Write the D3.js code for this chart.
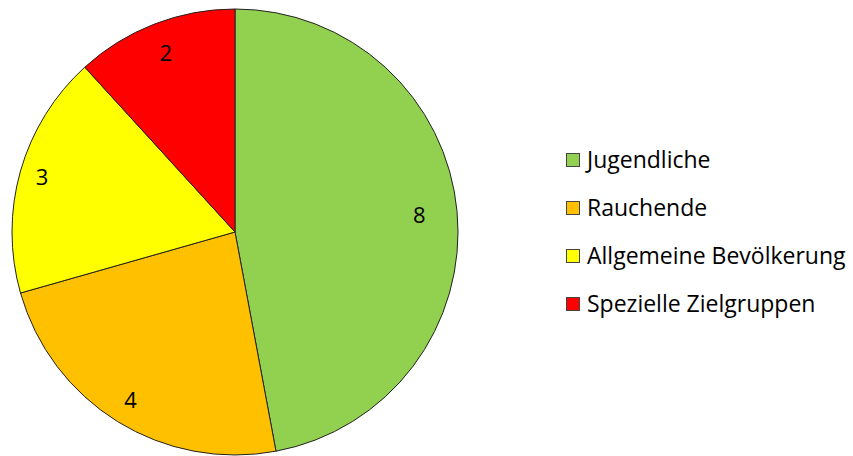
<!DOCTYPE html>
<html>
<head>
<meta charset="utf-8">
<script src="https://cdn.jsdelivr.net/npm/d3@7"></script>
<style>
  body { margin: 0; background: #fff; }
  text { font-family: "Open Sans", sans-serif; fill: #000; }
</style>
</head>
<body>
<div id="chart"></div>
<script>
let categories = ['Jugendliche', 'Rauchende', 'Allgemeine Bevölkerung', 'Spezielle Zielgruppen'];
let values = [8, 4, 3, 2];
let colors = ['#92D050', '#FFC000', '#FFFF00', '#FF0000'];
let labelPos = [0.83, 0.89, 0.9, 0.86]; // label distance as share of radius

let width = 853;
let height = 456;
let cx = 235, cy = 232, radius = 223;

let svg = d3.select('#chart')
  .append('svg')
  .attr('width', width)
  .attr('height', height);

let pie = d3.pie().sort(null).value(d => d);
let arcs = pie(values);

let arc = d3.arc().innerRadius(0).outerRadius(radius);

let g = svg.append('g').attr('transform', `translate(${cx},${cy})`);

g.selectAll('path')
  .data(arcs)
  .enter()
  .append('path')
  .attr('d', arc)
  .attr('fill', (d, i) => colors[i])
  .attr('stroke', '#222')
  .attr('stroke-width', 1);

g.selectAll('text.lbl')
  .data(arcs)
  .enter()
  .append('text')
  .attr('class', 'lbl')
  .attr('transform', (d, i) => {
    let r = radius * labelPos[i];
    let c = d3.arc().innerRadius(r).outerRadius(r).centroid(d);
    return `translate(${c})`;
  })
  .attr('text-anchor', 'middle')
  .attr('dy', '0.35em')
  .style('font-size', '22px')
  .text(d => d.data);

// legend
let legend = svg.append('g').attr('transform', 'translate(566,160)');
let row = legend.selectAll('g')
  .data(categories)
  .enter()
  .append('g')
  .attr('transform', (d, i) => `translate(0,${i * 48})`);

row.append('rect')
  .attr('x', 0.5)
  .attr('y', -6.5)
  .attr('width', 13)
  .attr('height', 13)
  .attr('fill', (d, i) => colors[i])
  .attr('stroke', '#444')
  .attr('stroke-width', 1);

row.append('text')
  .attr('x', 21)
  .attr('dy', '0.35em')
  .style('font-size', '23px')
  .text(d => d);
</script>
</body>
</html>
